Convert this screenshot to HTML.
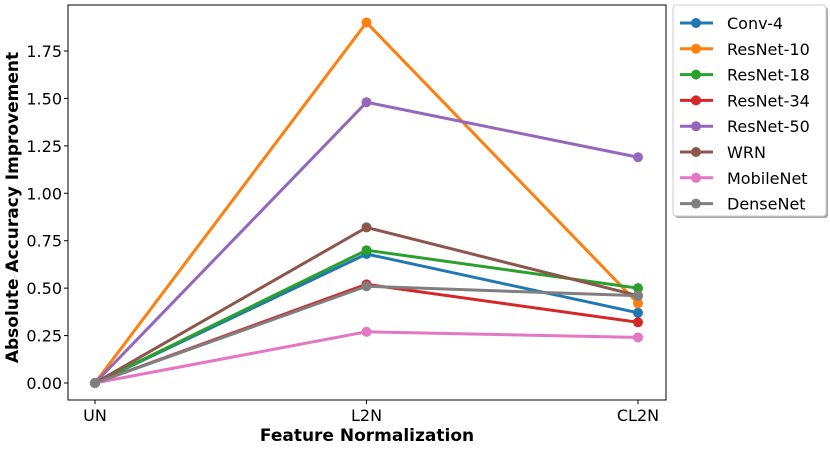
<!DOCTYPE html>
<html><head><meta charset="utf-8"><style>
body{margin:0;background:#fff;font-family:"DejaVu Sans","Liberation Sans",sans-serif;}
</style></head><body>
<svg id="chart" width="830" height="448" xmlns="http://www.w3.org/2000/svg"></svg>
<script>
const categories=["UN","L2N","CL2N"];
const seriesNames=["Conv-4","ResNet-10","ResNet-18","ResNet-34","ResNet-50","WRN","MobileNet","DenseNet"];
const colors=["#1f77b4","#ff7f0e","#2ca02c","#d62728","#9467bd","#8c564b","#e377c2","#7f7f7f"];
const conv4=[0,0.68,0.37];
const resnet10=[0,1.90,0.42];
const resnet18=[0,0.70,0.50];
const resnet34=[0,0.52,0.32];
const resnet50=[0,1.48,1.19];
const wrn=[0,0.82,0.46];
const mobilenet=[0,0.27,0.24];
const densenet=[0,0.51,0.46];
const seriesValues=[conv4,resnet10,resnet18,resnet34,resnet50,wrn,mobilenet,densenet];
const yTicks=[0,0.25,0.5,0.75,1.0,1.25,1.5,1.75];
const yTickLabels=["0.00","0.25","0.50","0.75","1.00","1.25","1.50","1.75"];

const NS="http://www.w3.org/2000/svg";
const svg=document.getElementById('chart');
const L=68,R=666,T=5,B=400;
const x=i=>95+i*(638-95)/(categories.length-1);
const y=v=>383-v*(383-51)/1.75;
function mk(tag,attrs,parent){const e=document.createElementNS(NS,tag);for(const k in attrs)e.setAttribute(k,attrs[k]);(parent||svg).appendChild(e);return e;}
const frame=mk('rect',{x:L,y:T,width:R-L,height:B-T,fill:'none',stroke:'#000','stroke-width':1});


yTicks.forEach((v,i)=>{
  const t=mk('line',{x1:L-4,x2:L,y1:y(v),y2:y(v),stroke:'#000'});
  
  
  const l=mk('text',{x:L-6,y:y(v)+6,'text-anchor':'end','font-size':16});
  l.textContent=yTickLabels[i];
  
  
});
categories.forEach((c,i)=>{
  const t=mk('line',{x1:x(i),x2:x(i),y1:B,y2:B+4,stroke:'#000'});
  
  
  const l=mk('text',{x:x(i),y:B+21,'text-anchor':'middle','font-size':16});
  l.textContent=c;
  
  
});
const xt=mk('text',{x:(L+R)/2,y:441,'text-anchor':'middle','font-size':17,'font-weight':'bold'});
xt.textContent='Feature Normalization';


const yt=mk('text',{x:0,y:0,'text-anchor':'middle','font-size':17,'font-weight':'bold',transform:'translate(18,'+((T+B)/2+5)+') rotate(-90)'});
yt.textContent='Absolute Accuracy Improvement';


seriesValues.forEach((vals,s)=>{
  const g=mk('g',{});
  
  
  const p=mk('polyline',{points:vals.map((v,i)=>x(i)+','+y(v)).join(' '),fill:'none',stroke:colors[s],'stroke-width':3},g);
  
  
  vals.forEach((v,i)=>{
    const c=mk('circle',{cx:x(i),cy:y(v),r:5,fill:colors[s]},g);
    
    
  });
});
const lg=mk('g',{});


mk('rect',{x:675,y:7,width:153,height:211,rx:3,fill:'#000',opacity:0.35},lg);
mk('rect',{x:673,y:5,width:153,height:211,rx:3,fill:'#fff',stroke:'#ccc'},lg);
seriesNames.forEach((n,s)=>{
  const yy=23+s*25.8;
  const e=mk('g',{},lg);
  
  
  mk('line',{x1:680,x2:713,y1:yy,y2:yy,stroke:colors[s],'stroke-width':3},e);
  mk('circle',{cx:696,cy:yy,r:5,fill:colors[s]},e);
  const t=mk('text',{x:727,y:yy+6,'font-size':16},e);
  t.textContent=n;
});
</script>
</body></html>
